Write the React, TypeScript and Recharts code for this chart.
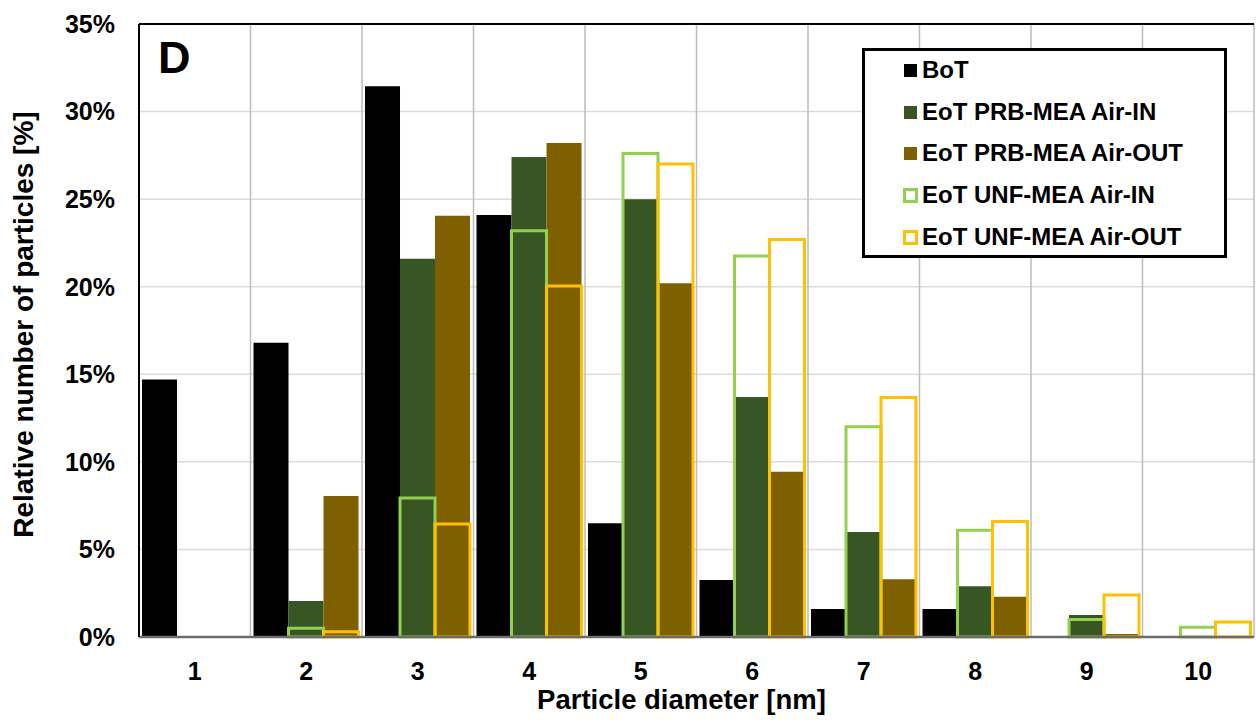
import React from 'react';
import { BarChart, Bar, XAxis, YAxis, CartesianGrid, ReferenceLine, Legend } from 'recharts';

const categories = ['1', '2', '3', '4', '5', '6', '7', '8', '9', '10'];
const botValues = [14.7, 16.8, 31.45, 24.1, 6.5, 3.25, 1.6, 1.6, 0, 0];
const prbInValues = [0, 2.05, 21.6, 27.4, 25.0, 13.7, 6.0, 2.9, 1.25, 0];
const prbOutValues = [0, 8.05, 24.05, 28.2, 20.2, 9.43, 3.3, 2.3, 0.17, 0.05];
const unfInValues = [0, 0.5, 7.94, 23.2, 27.6, 21.75, 12.0, 6.1, 1.0, 0.55];
const unfOutValues = [0, 0.3, 6.45, 20.04, 27.0, 22.7, 13.67, 6.6, 2.4, 0.85];
const yTicks = [0, 5, 10, 15, 20, 25, 30, 35];

const seriesInfo = [
  { key: 'bot', name: 'BoT', color: '#000000', outline: false },
  { key: 'prbIn', name: 'EoT PRB-MEA Air-IN', color: '#375623', outline: false },
  { key: 'prbOut', name: 'EoT PRB-MEA Air-OUT', color: '#7F6000', outline: false },
  { key: 'unfIn', name: 'EoT UNF-MEA Air-IN', color: '#92D050', outline: true },
  { key: 'unfOut', name: 'EoT UNF-MEA Air-OUT', color: '#FFC000', outline: true },
];

const data = categories.map((d, i) => ({
  d,
  bot: botValues[i],
  prbIn: prbInValues[i],
  prbOut: prbOutValues[i],
  unfIn: unfInValues[i],
  unfOut: unfOutValues[i],
}));

const FONT = '"Liberation Sans", Arial, Helvetica, sans-serif';
const rowCenters = [19, 61, 102, 144, 186];

const renderLegend = () => (
  <div
    style={{
      position: 'relative',
      width: 365,
      height: 210,
      border: '3px solid #000',
      boxSizing: 'border-box',
      background: '#fff',
      fontFamily: FONT,
      fontWeight: 700,
      fontSize: 24,
      color: '#000',
    }}
  >
    {seriesInfo.map((s, i) => (
      <React.Fragment key={s.key}>
        <span
          style={{
            position: 'absolute',
            left: s.outline ? 38 : 39,
            top: rowCenters[i] - (s.outline ? 7.5 : 6.5),
            width: s.outline ? 15 : 13,
            height: s.outline ? 15 : 13,
            boxSizing: 'border-box',
            background: s.outline ? '#fff' : s.color,
            border: s.outline ? `3px solid ${s.color}` : 'none',
          }}
        />
        <span
          style={{
            position: 'absolute',
            left: 57,
            top: rowCenters[i] - 15,
            height: 30,
            lineHeight: '30px',
            whiteSpace: 'nowrap',
          }}
        >
          {s.name}
        </span>
      </React.Fragment>
    ))}
  </div>
);

const verticalGen = (props: any) => {
  const off = props && props.offset ? props.offset : { left: 139, width: 1115 };
  const n = categories.length;
  return Array.from({ length: n + 1 }, (_, i) => off.left + (i * off.width) / n);
};

const YLabel = (props: any) => {
  const vb = props.viewBox || { x: 0, y: 24, width: 139, height: 613 };
  const cx = vb.x + 23;
  const cy = vb.y + vb.height / 2 - 6;
  return (
    <text
      x={cx}
      y={cy}
      transform={`rotate(-90, ${cx}, ${cy})`}
      textAnchor="middle"
      dominantBaseline="central"
      fontFamily={FONT}
      fontWeight={700}
      fontSize={28}
      fill="#000"
    >
      Relative number of particles [%]
    </text>
  );
};

const XLabel = (props: any) => {
  const vb = props.viewBox || { x: 139, y: 637, width: 1115, height: 85 };
  return (
    <text
      x={vb.x + vb.width / 2 - 15}
      y={vb.y + 72}
      textAnchor="middle"
      fontFamily={FONT}
      fontWeight={700}
      fontSize={27.5}
      fill="#000"
    >
      Particle diameter [nm]
    </text>
  );
};

const tickStyle = { fontSize: 25, fontWeight: 700, fill: '#000', fontFamily: FONT };

export default function App() {
  return (
    <div style={{ position: 'absolute', left: 0, top: 0, width: 1256, height: 722, background: '#fff' }}>
      <BarChart
        width={1256}
        height={722}
        data={data}
        margin={{ top: 24, right: 2, bottom: 0, left: 0 }}
        barCategoryGap="2.7%"
        barGap={0}
      >
        <CartesianGrid
          xAxisId="a"
          yAxisId="y"
          vertical={false}
          stroke="#dcdcdc"
          strokeWidth={1.5}
        />
        <CartesianGrid
          xAxisId="a"
          yAxisId="y"
          horizontal={false}
          stroke="#bdbdbd"
          strokeWidth={1.5}
          verticalCoordinatesGenerator={verticalGen}
        />
        <XAxis
          xAxisId="a"
          dataKey="d"
          height={85}
          tick={tickStyle}
          tickLine={false}
          tickSize={0}
          tickMargin={25}
          axisLine={{ stroke: '#6d6d6d', strokeWidth: 2.5 }}
          label={<XLabel />}
        />
        <XAxis xAxisId="b" dataKey="d" hide />
        <YAxis
          yAxisId="y"
          width={139}
          domain={[0, 35]}
          ticks={yTicks}
          tickFormatter={(v: number) => `${v}%`}
          tick={tickStyle}
          tickLine={false}
          tickSize={0}
          tickMargin={24}
          axisLine={{ stroke: '#000', strokeWidth: 2 }}
          label={<YLabel />}
        />
        <YAxis
          yAxisId="r"
          orientation="right"
          width={0}
          domain={[0, 35]}
          tick={false}
          tickLine={false}
          axisLine={{ stroke: '#000', strokeWidth: 2 }}
        />
        <Legend
          layout="vertical"
          align="center"
          verticalAlign="middle"
          content={renderLegend}
          wrapperStyle={{ left: 862, top: 48, width: 365, height: 210 }}
        />
        <Bar xAxisId="a" yAxisId="y" dataKey="bot" name="BoT" fill="#000000" isAnimationActive={false} />
        <Bar xAxisId="a" yAxisId="y" dataKey="prbIn" name="EoT PRB-MEA Air-IN" fill="#375623" isAnimationActive={false} />
        <Bar xAxisId="a" yAxisId="y" dataKey="prbOut" name="EoT PRB-MEA Air-OUT" fill="#7F6000" isAnimationActive={false} />
        <Bar xAxisId="b" yAxisId="y" dataKey="slot" legendType="none" fill="none" isAnimationActive={false} />
        <Bar
          xAxisId="b"
          yAxisId="y"
          dataKey="unfIn"
          name="EoT UNF-MEA Air-IN"
          fill="none"
          stroke="#92D050"
          strokeWidth={3}
          isAnimationActive={false}
        />
        <Bar
          xAxisId="b"
          yAxisId="y"
          dataKey="unfOut"
          name="EoT UNF-MEA Air-OUT"
          fill="none"
          stroke="#FFC000"
          strokeWidth={3}
          isAnimationActive={false}
        />
        <ReferenceLine yAxisId="y" xAxisId="a" y={35} stroke="#000" strokeWidth={2} />
      </BarChart>
      <div
        style={{
          position: 'absolute',
          left: 158,
          top: 35,
          fontFamily: FONT,
          fontWeight: 700,
          fontSize: 45,
          lineHeight: '45px',
          color: '#000',
        }}
      >
        D
      </div>
    </div>
  );
}
